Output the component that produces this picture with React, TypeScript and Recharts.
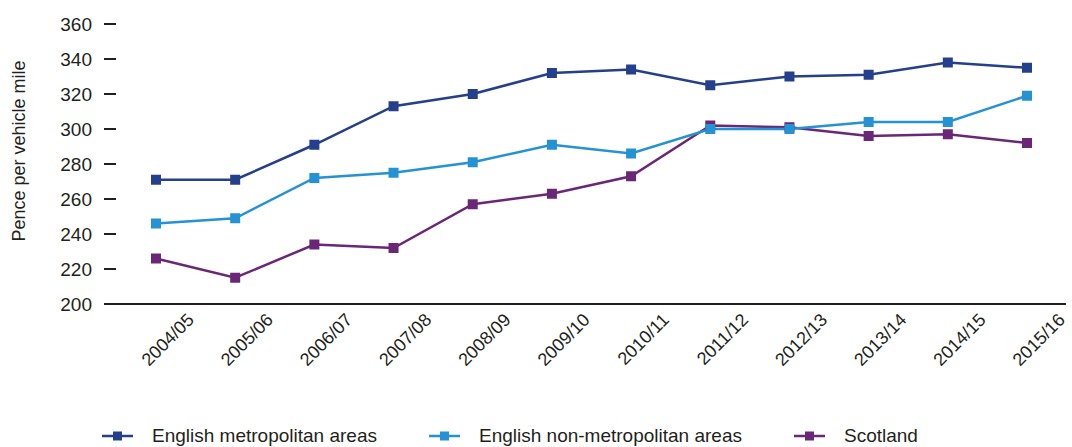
import { LineChart, Line, XAxis, YAxis, Legend } from 'recharts';

const years = [
  '2004/05', '2005/06', '2006/07', '2007/08', '2008/09', '2009/10',
  '2010/11', '2011/12', '2012/13', '2013/14', '2014/15', '2015/16',
];
const metro = [271, 271, 291, 313, 320, 332, 334, 325, 330, 331, 338, 335];
const nonMetro = [246, 249, 272, 275, 281, 291, 286, 300, 300, 304, 304, 319];
const scotland = [226, 215, 234, 232, 257, 263, 273, 302, 301, 296, 297, 292];
const yTicks = [200, 220, 240, 260, 280, 300, 320, 340, 360];

const series = [
  { key: 'metro', name: 'English metropolitan areas', color: '#243f8c' },
  { key: 'nonMetro', name: 'English non-metropolitan areas', color: '#2592d3' },
  { key: 'scotland', name: 'Scotland', color: '#6a2677' },
];

const data = years.map((year, i) => ({
  year,
  metro: metro[i],
  nonMetro: nonMetro[i],
  scotland: scotland[i],
}));

const FONT = '"Liberation Sans", Arial, sans-serif';
const TEXT = '#231f20';

const squareDot = (color: string) => (props: any) => {
  const { cx, cy, index } = props;
  if (cx == null || cy == null) return <g key={index} />;
  return <rect key={index} x={cx - 5} y={cy - 5} width={10} height={10} fill={color} />;
};

const XTick = (props: any) => {
  const { x, y, payload } = props;
  const ax = x + 39;
  const ay = y + 17;
  return (
    <text
      x={ax}
      y={ay}
      transform={`rotate(-45, ${ax}, ${ay})`}
      textAnchor="end"
      fill={TEXT}
      fontSize={18}
      fontFamily={FONT}
    >
      {payload.value}
    </text>
  );
};

const LegendContent = () => (
  <div style={{ display: 'flex', gap: 52, fontFamily: FONT, fontSize: 19, color: TEXT }}>
    {series.map((s) => (
      <div key={s.key} style={{ display: 'flex', alignItems: 'center' }}>
        <svg width={31} height={12} style={{ marginRight: 19 }}>
          <line x1={0} y1={6} x2={31} y2={6} stroke={s.color} strokeWidth={2.5} />
          <rect x={11} y={1.5} width={9} height={9} fill={s.color} />
        </svg>
        <span>{s.name}</span>
      </div>
    ))}
  </div>
);

export default function App() {
  return (
    <div style={{ position: 'absolute', left: 0, top: 0, background: '#fff' }}>
      <LineChart
        width={1072}
        height={447}
        data={data}
        margin={{ top: 24, right: 6, bottom: 43, left: 0 }}
      >
        <XAxis
          dataKey="year"
          tick={<XTick />}
          tickLine={false}
          tickSize={0}
          tickMargin={0}
          axisLine={{ stroke: TEXT, strokeWidth: 2 }}
          height={100}
          interval={0}
          padding={{ left: 40, right: 39 }}
        />
        <YAxis
          domain={[200, 360]}
          ticks={yTicks}
          width={116}
          axisLine={false}
          tickLine={{ stroke: TEXT, strokeWidth: 2 }}
          tickSize={12}
          tickMargin={12}
          tick={{ fill: TEXT, fontSize: 19, fontFamily: FONT }}
          label={{
            content: () => (
              <text
                x={25}
                y={151}
                transform="rotate(-90, 25, 151)"
                textAnchor="middle"
                fill={TEXT}
                fontSize={18}
                fontFamily={FONT}
              >
                Pence per vehicle mile
              </text>
            ),
          }}
        />
        <Line
          dataKey="scotland"
          name="Scotland"
          stroke="#6a2677"
          strokeWidth={2.5}
          dot={squareDot('#6a2677')}
          isAnimationActive={false}
        />
        <Line
          dataKey="nonMetro"
          name="English non-metropolitan areas"
          stroke="#2592d3"
          strokeWidth={2.5}
          dot={squareDot('#2592d3')}
          isAnimationActive={false}
        />
        <Line
          dataKey="metro"
          name="English metropolitan areas"
          stroke="#243f8c"
          strokeWidth={2.5}
          dot={squareDot('#243f8c')}
          isAnimationActive={false}
        />
        <Legend
          verticalAlign="middle"
          align="center"
          content={<LegendContent />}
          wrapperStyle={{ top: 425, left: 102, width: 'auto', height: 'auto' }}
        />
      </LineChart>
    </div>
  );
}
